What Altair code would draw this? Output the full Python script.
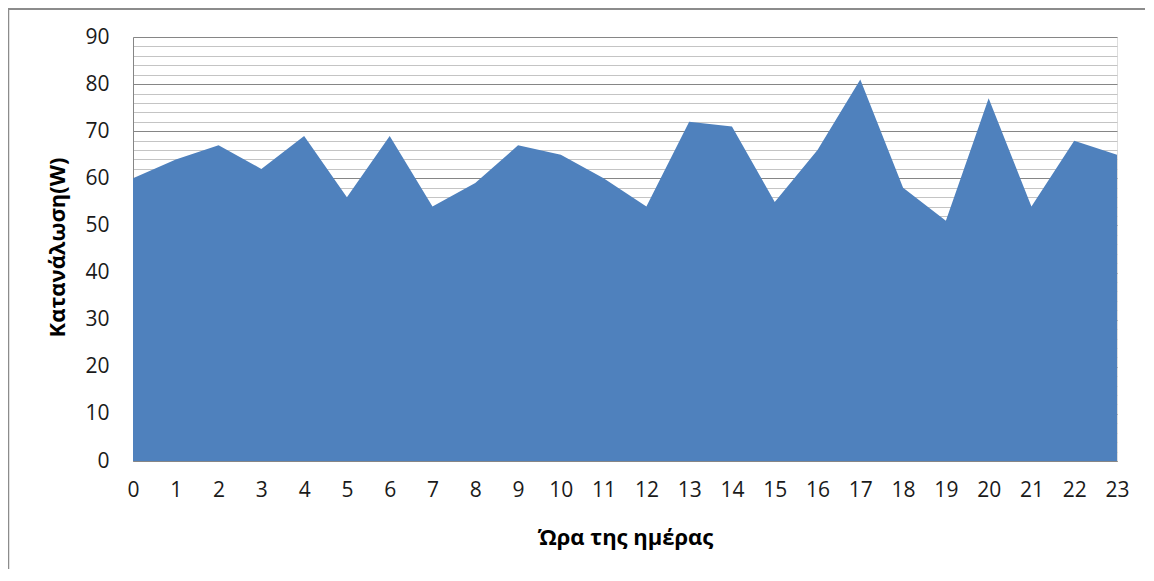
import altair as alt
import pandas as pd

hours = list(range(24))
consumption = [60, 64, 67, 62, 69, 56, 69, 54, 59, 67, 65, 60,
               54, 72, 71, 55, 66, 81, 58, 51, 77, 54, 68, 65]
y_ticks = list(range(0, 91, 2))
x_title = "Ώρα της ημέρας"
y_title = "Κατανάλωση(W)"

df = pd.DataFrame({"hour": hours, "w": consumption})

FONT = "Open Sans"

area = alt.Chart(df).mark_area(color="#4F81BD", opacity=1).encode(
    x=alt.X("hour:Q",
            scale=alt.Scale(domain=[0, 23], nice=False, zero=False),
            axis=alt.Axis(values=hours, title=x_title, grid=False, ticks=False,
                          domainColor="#868686", domainWidth=1,
                          labelFont=FONT, labelFontSize=21, labelColor="#1a1a1a",
                          labelPadding=18, labelFlush=False,
                          titleFont=FONT, titleFontSize=22, titleFontWeight="bold",
                          titleColor="#000000", titleX=492, titleY=76,
                          titleBaseline="middle", titleAlign="center")),
    y=alt.Y("w:Q",
            scale=alt.Scale(domain=[0, 90], nice=False),
            axis=alt.Axis(values=y_ticks, title=y_title, grid=True, ticks=False,
                          labelExpr="datum.value % 10 === 0 ? datum.label : ''",
                          gridColor={"expr": "datum.value % 10 === 0 ? '#868686' : '#c4c4c4'"},
                          gridWidth=1,
                          domainColor="#868686", domainWidth=1,
                          labelFont=FONT, labelFontSize=21, labelColor="#1a1a1a",
                          labelPadding=24,
                          titleFont=FONT, titleFontSize=22, titleFontWeight="bold",
                          titleColor="#000000", titleAngle=270, titleX=-76, titleY=210,
                          titleBaseline="middle", titleAlign="center")),
)

frame_src = alt.Data(values=[{"k": 1}])
frame_top = alt.Chart(frame_src).mark_rule(color="#8c8c8c", strokeWidth=2).encode(
    x=alt.value(-125), x2=alt.value(1100), y=alt.value(-28))
frame_left = alt.Chart(frame_src).mark_rule(color="#8c8c8c", strokeWidth=1.5).encode(
    x=alt.value(-124.5), y=alt.value(-29), y2=alt.value(540))

chart = alt.layer(area, frame_top, frame_left).properties(
    width=984, height=424,
    autosize=alt.AutoSizeParams(type="none"),
    padding={"left": 125, "top": 29, "right": 28, "bottom": 108},
).configure_view(stroke=None).configure(background="white")

chart.save("out.html", embed_options={"renderer": "svg", "actions": False})
